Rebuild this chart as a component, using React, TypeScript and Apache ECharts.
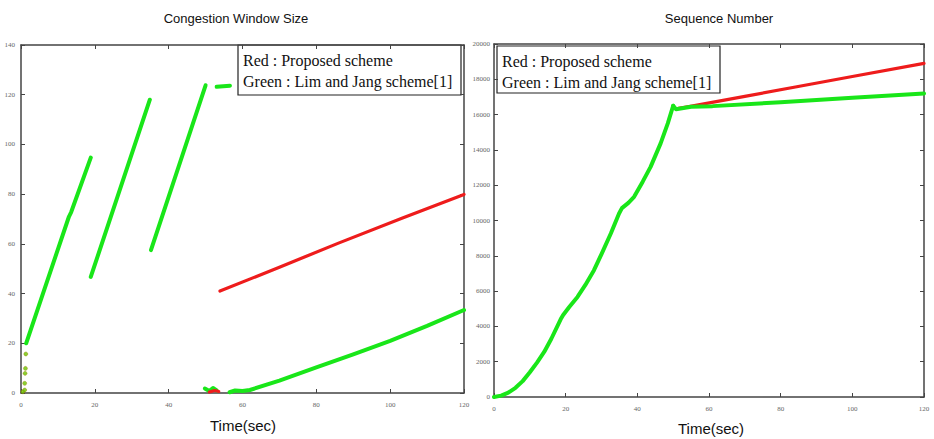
import React, { useEffect, useRef } from "react";
import * as echarts from "echarts";

// ---------- data ----------
const timeMin = 0;
const timeMax = 120;
const timeStep = 20;
const cwndMax = 140;
const cwndStep = 20;
const seqMax = 20000;
const seqStep = 2000;

// Congestion window (left)
const cwndGreenStartDots = [[0.5, 0.5], [1.0, 1.2], [1.0, 3.9], [1.1, 7.9], [1.2, 9.9], [1.3, 15.7]];
const cwndGreenSeg1 = [[1.4, 20], [13.0, 71], [13.6, 72.8], [18.9, 94.7]];
const cwndGreenSeg2 = [[18.9, 46.7], [34.9, 118]];
const cwndGreenSeg3 = [[35.2, 57.5], [50.0, 123.8]];
const cwndGreenSeg4 = [[53.0, 123.2], [56.6, 123.6]];
const cwndGreenSeg5 = [[49.8, 1.8], [51.0, 0.8], [52.0, 2.0], [53.0, 1.0]];
const cwndGreenSeg6 = [[56.5, 0.3], [58, 1.0], [60, 0.8], [62, 1.2], [70, 5.0], [80, 10.3], [90, 15.5], [100, 21.0], [110, 27.0], [120, 33.4]];
const cwndRedSeg1 = [[51.0, 0.4], [52.5, 1.0], [53.6, 0.6]];
const cwndRedSeg2 = [[53.9, 41], [70, 50.6], [86, 60.3], [103, 70.2], [120, 79.9]];

// Sequence number (right)
const seqGreenRise = [
  [0, 0], [2, 80], [4, 250], [6, 520], [8, 900], [10, 1400], [12, 1950], [14, 2550],
  [16, 3300], [18.6, 4400], [19.3, 4650], [21, 5100], [23.3, 5670], [25.5, 6350],
  [27.9, 7185], [30, 8100], [32.6, 9265], [34.9, 10400], [35.7, 10700], [37.5, 11000],
  [39.1, 11340], [41.5, 12200], [43.7, 13040], [46.5, 14370], [48.5, 15500], [50.0, 16500],
];
const seqGreenFlat = [[50.0, 16500], [50.8, 16300], [55, 16450], [61, 16480], [80, 16700], [100, 16950], [120, 17200]];
const seqRed = [[51.5, 16350], [54, 16440], [70, 17030], [84.5, 17577], [100, 18160], [120, 18900]];

// ---------- styles ----------
const GREEN = "#19e619";
const RED = "#ee1c1c";
const AXIS = "#444";
const LABEL_FONT = "Liberation Serif";

function lineSeries(data: number[][], color: string, width: number, xi: number, yi: number, z = 2) {
  return {
    type: "line",
    data,
    xAxisIndex: xi,
    yAxisIndex: yi,
    showSymbol: false,
    symbol: "none",
    smooth: false,
    z,
    lineStyle: { color, width, cap: "round", join: "round" },
  };
}

function xAxes(gi: number) {
  const base = {
    type: "value",
    gridIndex: gi,
    min: timeMin,
    max: timeMax,
    interval: timeStep,
    splitLine: { show: false },
    axisLine: { show: true, onZero: false, lineStyle: { color: AXIS, width: 1.5 } },
    axisTick: { show: true, inside: true, length: 4, lineStyle: { color: AXIS, width: 1 } },
  };
  return [
    { ...base, position: "bottom", axisLabel: { fontSize: 7, color: "#666", fontFamily: LABEL_FONT, margin: 8, formatter: (v: number) => String(v) } },
    { ...base, position: "top", axisLabel: { show: false } },
  ];
}

function yAxes(gi: number, max: number, step: number, margin: number) {
  const base = {
    type: "value",
    gridIndex: gi,
    min: 0,
    max,
    interval: step,
    splitLine: { show: false },
    axisLine: { show: true, onZero: false, lineStyle: { color: AXIS, width: 1.5 } },
    axisTick: { show: true, inside: true, length: 4, lineStyle: { color: AXIS, width: 1 } },
  };
  return [
    { ...base, position: "left", axisLabel: { fontSize: 7, color: "#666", fontFamily: LABEL_FONT, margin, formatter: (v: number) => String(v) } },
    { ...base, position: "right", axisLabel: { show: false } },
  ];
}

function legendBox(x: number, y: number, w: number, h: number) {
  return {
    type: "group",
    x,
    y,
    z: 100,
    children: [
      { type: "rect", shape: { x: 0, y: 0, width: w, height: h }, style: { fill: "#fff", stroke: "#222", lineWidth: 1.2 } },
      { type: "text", x: 5, y: 15, style: { text: "Red : Proposed scheme", font: '16px "Liberation Serif"', fill: "#111", textVerticalAlign: "middle" } },
      { type: "text", x: 5, y: 36, style: { text: "Green : Lim and Jang scheme[1]", font: '16px "Liberation Serif"', fill: "#111", textVerticalAlign: "middle" } },
    ],
  };
}

export default function App() {
  const ref = useRef<HTMLDivElement>(null);
  useEffect(() => {
    if (!ref.current) return;
    const chart = echarts.init(ref.current, undefined, { renderer: "svg" });
    const option = {
      animation: false,
      backgroundColor: "#fff",
      grid: [
        { left: 21, top: 45, width: 443, height: 348 },
        { left: 494, top: 44, width: 430, height: 353 },
      ],
      xAxis: [...xAxes(0), ...xAxes(1)],
      yAxis: [...yAxes(0, cwndMax, cwndStep, 6), ...yAxes(1, seqMax, seqStep, 4)],
      series: [
        {
          type: "scatter",
          data: cwndGreenStartDots,
          xAxisIndex: 0,
          yAxisIndex: 0,
          symbolSize: 4,
          itemStyle: { color: "#6cc400", borderColor: "#a08000", borderWidth: 0.5 },
        },
        lineSeries(cwndGreenSeg1, GREEN, 4, 0, 0),
        lineSeries(cwndGreenSeg2, GREEN, 4, 0, 0),
        lineSeries(cwndGreenSeg3, GREEN, 4, 0, 0),
        lineSeries(cwndGreenSeg4, GREEN, 4, 0, 0),
        lineSeries(cwndGreenSeg5, GREEN, 4, 0, 0),
        lineSeries(cwndGreenSeg6, GREEN, 4, 0, 0),
        lineSeries(cwndRedSeg1, RED, 3, 0, 0, 3),
        lineSeries(cwndRedSeg2, RED, 3.2, 0, 0, 3),
        lineSeries(seqRed, RED, 3.2, 2, 2, 2),
        lineSeries(seqGreenRise, GREEN, 4, 2, 2, 3),
        lineSeries(seqGreenFlat, GREEN, 4, 2, 2, 3),
      ],
      graphic: [
        { type: "text", x: 236, y: 18, style: { text: "Congestion Window Size", font: '13px "Liberation Sans"', fill: "#111", textAlign: "center", textVerticalAlign: "middle" } },
        { type: "text", x: 719, y: 18, style: { text: "Sequence Number", font: '13px "Liberation Sans"', fill: "#111", textAlign: "center", textVerticalAlign: "middle" } },
        { type: "text", x: 243, y: 425, style: { text: "Time(sec)", font: '15px "Liberation Sans"', fill: "#111", textAlign: "center", textVerticalAlign: "middle" } },
        { type: "text", x: 711, y: 428, style: { text: "Time(sec)", font: '15px "Liberation Sans"', fill: "#111", textAlign: "center", textVerticalAlign: "middle" } },
        legendBox(238, 45, 223, 50),
        legendBox(497, 46, 223, 47),
      ],
    };
    chart.setOption(option as any);
    return () => chart.dispose();
  }, []);
  return <div ref={ref} style={{ position: "fixed", left: 0, top: 0, width: 934, height: 439 }} />;
}
